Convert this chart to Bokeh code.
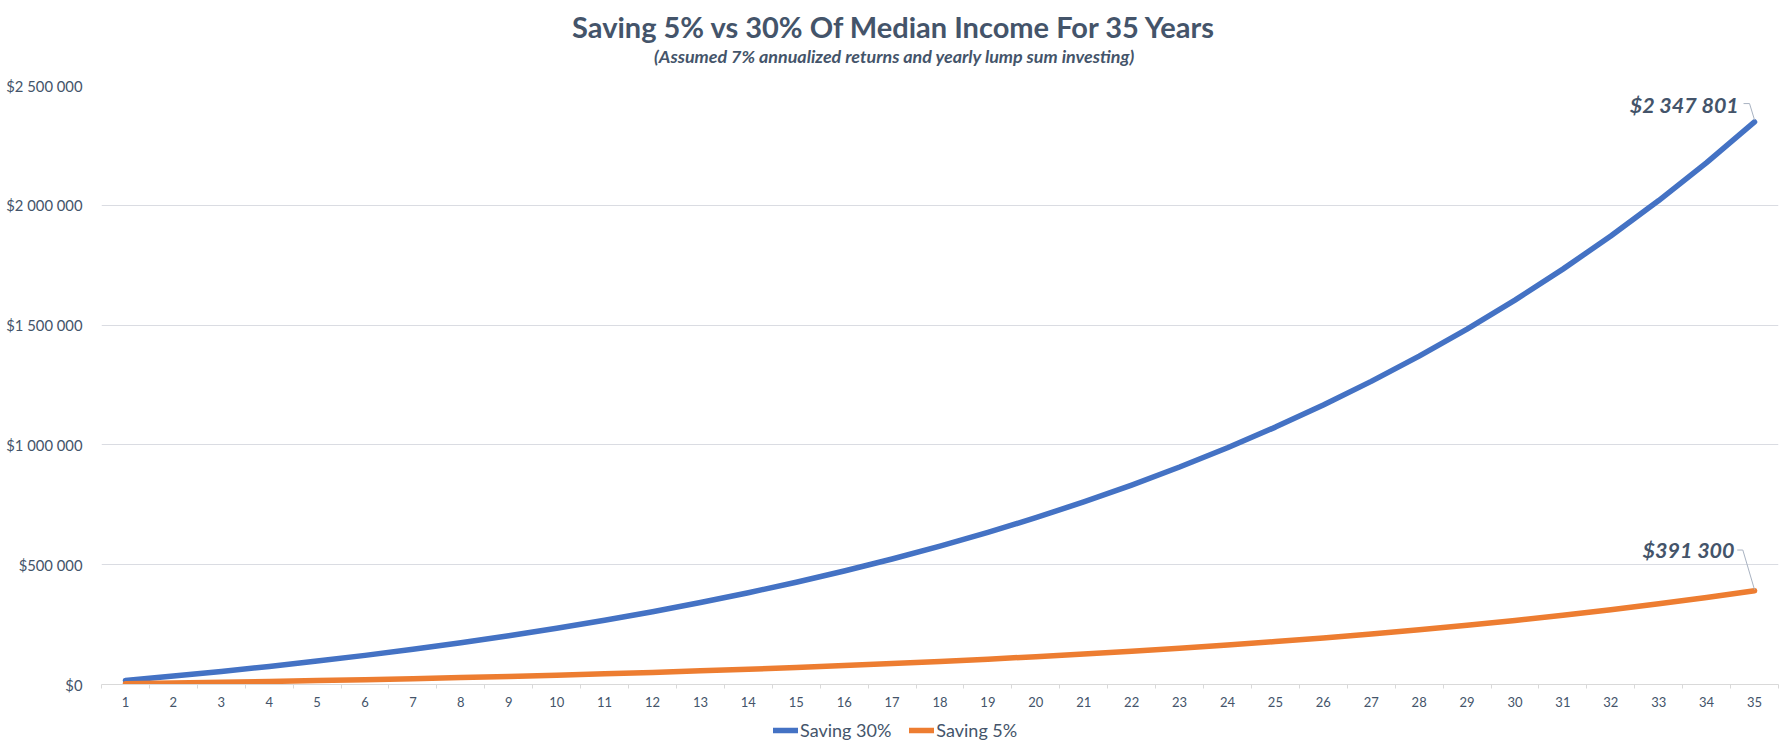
from bokeh.plotting import figure
from bokeh.layouts import column
from bokeh.models import Range1d, FixedTicker, Label, Legend, LegendItem
from bokeh.embed import file_html
from bokeh.resources import INLINE

# ---------------- data ----------------
years = list(range(1, 36))
saving_30 = [17000, 35200, 54600, 75400, 97700, 121500, 147000, 174300, 203500, 234700,
             268100, 303800, 342100, 383000, 426800, 473700, 523800, 577500, 634900, 696300,
             762000, 832300, 907600, 988100, 1074200, 1166400, 1265000, 1370600, 1483500, 1604300,
             1733600, 1871900, 2019900, 2178200, 2347801]
saving_5 = [2800, 5900, 9100, 12600, 16300, 20300, 24500, 29000, 33900, 39100,
            44700, 50600, 57000, 63800, 71100, 78900, 87300, 96200, 105800, 116100,
            127000, 138700, 151300, 164700, 179000, 194400, 210800, 228400, 247300, 267400,
            288900, 312000, 336700, 363100, 391300]
series_names = ["Saving 30%", "Saving 5%"]
end_labels = ["$2 347 801", "$391 300"]
y_ticks = [0, 500000, 1000000, 1500000, 2000000, 2500000]
y_tick_labels = ["$0", "$500 000", "$1 000 000", "$1 500 000", "$2 000 000", "$2 500 000"]
title_text = "Saving 5% vs 30% Of Median Income For 35 Years"
subtitle_text = "(Assumed 7% annualized returns and yearly lump sum investing)"

# ---------------- style ----------------
BLUE = "#4472C4"
ORANGE = "#ED7D31"
TEXT = "#44546A"
GRID = "#DADCE2"
FONT = "Lato"
W = 1788
BL, BR = 101, 10          # plot-area borders (shared by all stacked figures)
TOP_H, LEG_H = 70, 38


def bare_figure(height):
    f = figure(width=W, height=height, output_backend="svg", toolbar_location=None,
               x_axis_type=None, y_axis_type=None, x_range=Range1d(0, 1), y_range=Range1d(0, 1),
               min_border_left=BL, min_border_right=BR, min_border_top=0, min_border_bottom=0)
    f.outline_line_color = None
    f.grid.visible = False
    return f


# ---------------- title block ----------------
top = bare_figure(TOP_H)
cx = W / 2 - BL
top.add_layout(Label(x=cx, y=TOP_H - 35.7 + 10, x_units="screen", y_units="screen", text=title_text,
                     text_align="center", text_baseline="alphabetic", text_font=FONT,
                     text_font_style="bold", text_font_size="29px", text_color=TEXT))
top.add_layout(Label(x=cx, y=TOP_H - 62 + 7, x_units="screen", y_units="screen", text=subtitle_text,
                     text_align="center", text_baseline="alphabetic", text_font=FONT,
                     text_font_style="bold italic", text_font_size="17.9px", text_color=TEXT))

# ---------------- main chart ----------------
BT, BB = 85 - TOP_H, 30
FH = 599
MAIN_H = BT + FH + BB
FW = W - BL - BR
X0, X1 = 0.5, 35.5
YMAX = 2500000

p = figure(width=W, height=MAIN_H, output_backend="svg", toolbar_location=None,
           x_range=Range1d(X0, X1), y_range=Range1d(0, YMAX),
           min_border_left=BL, min_border_right=BR, min_border_top=BT, min_border_bottom=BB)
p.outline_line_color = None

p.xaxis.ticker = FixedTicker(ticks=years, minor_ticks=[y - 0.5 for y in years] + [35.5])
p.xaxis.axis_line_color = "#D9D9D9"
p.xaxis.major_tick_line_color = None
p.xaxis.major_tick_out = 0
p.xaxis.major_tick_in = 0
p.xaxis.minor_tick_line_color = "#D9D9D9"
p.xaxis.minor_tick_out = 4
p.xaxis.minor_tick_in = 0
p.xaxis.major_label_standoff = 8
p.xaxis.major_label_text_font = FONT
p.xaxis.major_label_text_font_size = "13px"
p.xaxis.major_label_text_color = TEXT

p.yaxis.ticker = FixedTicker(ticks=y_ticks)
p.yaxis.major_label_overrides = {t: s for t, s in zip(y_ticks, y_tick_labels)}
p.yaxis.axis_line_color = None
p.yaxis.major_tick_line_color = None
p.yaxis.minor_tick_line_color = None
p.yaxis.major_tick_out = 0
p.yaxis.major_tick_in = 0
p.yaxis.major_label_standoff = 19
p.yaxis.major_label_text_font = FONT
p.yaxis.major_label_text_font_size = "14.8px"
p.yaxis.major_label_text_color = TEXT

p.xgrid.grid_line_color = None
p.ygrid.grid_line_color = GRID
p.ygrid.grid_line_width = 1

p.line(years, saving_30, line_color=BLUE, line_width=5.5, line_cap="round", line_join="round")
p.line(years, saving_5, line_color=ORANGE, line_width=5.5, line_cap="round", line_join="round")

# end-value labels with leader lines (offsets in pixels from the last point)
px_x = FW / (X1 - X0)
px_y = FH / YMAX
last_x = years[-1]
callouts = [
    (saving_30[-1], end_labels[0], (-15.7, 9.4 + 8), [(-11, -18.4), (-5, -18.4), (0, -2)]),
    (saving_5[-1], end_labels[1], (-20, 32.7 + 8), [(-17.3, -40.7), (-11.7, -40.7), (0, -1)]),
]
for v, txt, (ox, oy), pts in callouts:
    lx = [last_x + dx / px_x for dx, dy in pts]
    ly = [v - dy / px_y for dx, dy in pts]
    p.line(lx, ly, line_color="#A9B3C2", line_width=1)
    p.add_layout(Label(x=last_x, y=v, x_offset=ox, y_offset=oy, text=txt,
                       text_align="right", text_baseline="alphabetic", text_font=FONT,
                       text_font_style="bold italic", text_font_size="21.5px", text_color=TEXT))

# ---------------- legend block ----------------
leg = bare_figure(LEG_H)
k30 = leg.line(years, saving_30, line_color=BLUE, line_width=5.5, line_cap="round")
k5 = leg.line(years, saving_5, line_color=ORANGE, line_width=5.5, line_cap="round")
legend = Legend(items=[LegendItem(label=series_names[0], renderers=[k30]),
                       LegendItem(label=series_names[1], renderers=[k5])],
                orientation="horizontal", location=(672, 11),
                padding=0, margin=0, spacing=18, glyph_width=25, glyph_height=20,
                label_standoff=2, label_height=20,
                label_text_font=FONT, label_text_font_size="18px", label_text_color=TEXT,
                border_line_color=None, background_fill_alpha=0)
leg.add_layout(legend, "center")

layout = column(top, p, leg, spacing=0)
open("out.html", "w").write(file_html(layout, INLINE))
